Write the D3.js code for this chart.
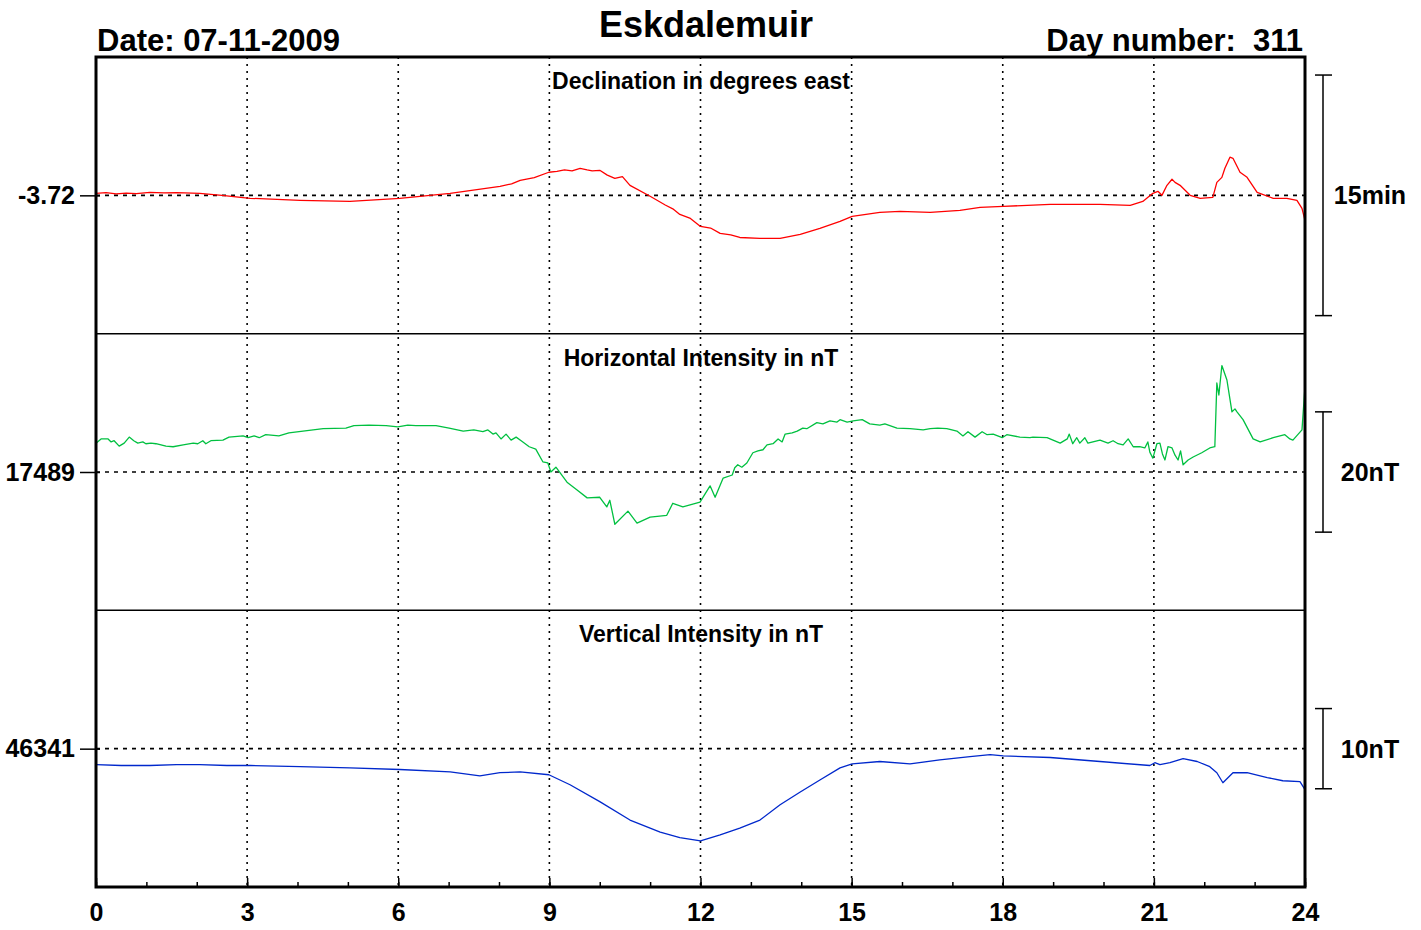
<!DOCTYPE html>
<html><head><meta charset="utf-8">
<script src="https://cdn.jsdelivr.net/npm/d3@7"></script>
<style>
html,body{margin:0;padding:0;background:#fff;}
text{font-family:"Liberation Sans",Arial,Helvetica,sans-serif;font-weight:bold;fill:#000;}
</style></head><body>
<svg id="c" width="1421" height="930"></svg>
<script>
// ---- Data ----
const title = "Eskdalemuir";
const dateLabel = "Date: 07-11-2009";
const dayLabel = "Day number:\u00a0\u00a0311";
const hourTicks = [0,3,6,9,12,15,18,21,24];
const panelTitles = ["Declination in degrees east","Horizontal Intensity in nT","Vertical Intensity in nT"];
const baseValues = [-3.72, 17489, 46341];
const baseLabels = ["-3.72","17489","46341"];
const scaleBarLabels = ["15min","20nT","10nT"];
const scaleBarSpans = [0.25, 20, 10];      // in panel units
const panelHalfRange = [0.14375, 23, 17.25]; // half of panel y-range in units

// Declination (degrees) [hour, value]
const declination = [
[0.00,-3.7179],[0.20,-3.7172],[0.40,-3.7185],[0.60,-3.7176],[0.80,-3.7182],[1.07,-3.7169],[1.35,-3.7175],[1.60,-3.7172],
[2.06,-3.7179],[2.50,-3.7200],[3.06,-3.7231],[4.05,-3.7252],
[5.04,-3.7263],[6.03,-3.7231],[7.03,-3.7179],[8.02,-3.7106],[8.25,-3.7080],[8.42,-3.7044],[8.70,-3.7015],[8.99,-3.6960],
[9.15,-3.6950],[9.30,-3.6935],[9.45,-3.6945],[9.61,-3.6919],[9.75,-3.6935],[9.85,-3.6945],[10.00,-3.6940],[10.15,-3.6990],
[10.30,-3.7023],[10.45,-3.7005],[10.60,-3.7096],
[11.00,-3.7210],[11.30,-3.7300],[11.45,-3.7340],[11.59,-3.7398],[11.80,-3.7440],[12.00,-3.7523],[12.20,-3.7540],[12.39,-3.7596],
[12.60,-3.7610],[12.78,-3.7638],
[13.18,-3.7648],[13.58,-3.7648],[13.98,-3.7606],[14.37,-3.7544],[14.77,-3.7471],[15.01,-3.7419],
[15.56,-3.7377],[15.96,-3.7367],[16.56,-3.7377],[17.15,-3.7356],[17.55,-3.7325],[18.01,-3.7315],
[18.94,-3.7294],[19.93,-3.7294],[20.53,-3.7304],[20.78,-3.7263],[20.98,-3.7179],[21.08,-3.7158],
[21.16,-3.7200],[21.26,-3.7096],[21.36,-3.7033],[21.42,-3.7065],[21.52,-3.7096],[21.72,-3.7200],
[21.92,-3.7231],[22.17,-3.7221],[22.25,-3.7065],[22.35,-3.7013],[22.41,-3.6919],[22.51,-3.6804],
[22.57,-3.6815],[22.71,-3.6960],[22.85,-3.7013],[23.05,-3.7169],[23.37,-3.7231],[23.64,-3.7231],
[23.84,-3.7252],[23.94,-3.7335],[24.00,-3.7460]
];
// Horizontal intensity (nT)
const horizontal = [
[0.00,17493.8],[0.10,17494.5],[0.24,17494.5],[0.30,17494.0],[0.36,17494.2],[0.46,17493.3],[0.56,17493.8],
[0.66,17494.8],[0.75,17494.2],[0.83,17493.8],[0.93,17494.0],[0.99,17493.7],[1.09,17493.8],[1.19,17493.7],
[1.39,17493.3],[1.53,17493.2],[1.73,17493.5],[1.93,17493.8],[2.02,17493.7],[2.12,17494.2],[2.18,17493.7],
[2.28,17494.2],[2.52,17494.3],[2.64,17494.8],[2.92,17495.0],[3.02,17494.7],[3.14,17495.0],[3.24,17494.7],
[3.37,17495.2],[3.63,17495.0],[3.83,17495.5],[4.11,17495.8],[4.51,17496.2],[4.96,17496.3],[5.12,17496.7],
[5.42,17496.8],[5.76,17496.7],[5.99,17496.5],[6.19,17496.8],[6.35,17496.7],[6.75,17496.7],[7.01,17496.3],
[7.29,17495.8],[7.50,17496.0],[7.68,17495.7],[7.78,17496.0],[7.88,17495.3],[7.94,17495.5],[8.04,17494.5],
[8.14,17495.3],[8.24,17494.3],[8.34,17494.8],[8.44,17494.2],[8.60,17493.2],[8.73,17492.8],[8.87,17490.7],
[8.97,17490.5],[9.03,17489.0],[9.13,17489.8],[9.35,17487.3],[9.55,17486.0],[9.75,17484.7],[10.00,17484.8],
[10.14,17483.2],[10.20,17484.3],[10.30,17480.3],[10.56,17482.5],[10.74,17480.5],[11.00,17481.5],
[11.33,17481.8],[11.45,17483.8],[11.65,17483.2],[11.99,17484.0],[12.19,17486.7],[12.29,17484.8],
[12.45,17488.0],[12.63,17488.5],[12.68,17489.7],[12.74,17490.2],[12.82,17489.8],[12.92,17490.5],
[13.04,17492.2],[13.14,17492.5],[13.24,17492.7],[13.32,17493.5],[13.44,17493.7],[13.54,17494.5],
[13.62,17494.0],[13.68,17495.3],[13.82,17495.5],[13.92,17495.8],[14.03,17496.3],[14.11,17496.2],
[14.31,17497.2],[14.43,17497.0],[14.57,17497.5],[14.71,17497.3],[14.77,17497.7],[14.91,17497.3],
[15.03,17497.5],[15.21,17497.7],[15.36,17497.0],[15.56,17496.8],[15.66,17497.0],[15.90,17496.3],
[16.16,17496.2],[16.42,17496.0],[16.56,17496.2],[16.71,17496.3],[16.89,17496.2],[17.09,17495.8],
[17.21,17495.0],[17.31,17495.7],[17.45,17494.8],[17.59,17495.7],[17.69,17495.2],[17.81,17495.3],
[17.99,17494.7],[18.08,17495.2],[18.34,17494.8],[18.54,17494.7],[18.60,17494.8],[18.88,17494.7],
[19.14,17493.8],[19.28,17494.5],[19.32,17495.3],[19.39,17493.7],[19.47,17494.7],[19.53,17493.8],
[19.63,17494.7],[19.69,17493.8],[19.93,17494.3],[20.09,17493.8],[20.19,17494.2],[20.29,17493.7],
[20.39,17493.5],[20.49,17494.5],[20.59,17493.2],[20.72,17493.2],[20.82,17493.0],[20.88,17494.0],
[20.92,17492.3],[20.98,17491.3],[21.06,17493.7],[21.12,17493.8],[21.17,17492.0],[21.22,17491.0],
[21.28,17493.2],[21.36,17493.0],[21.42,17491.8],[21.48,17491.0],[21.53,17492.5],[21.58,17490.2],
[21.68,17491.0],[21.78,17491.5],[21.95,17492.2],[22.11,17493.0],[22.21,17493.2],[22.25,17503.8],
[22.29,17501.8],[22.35,17506.7],[22.45,17504.3],[22.55,17499.0],[22.61,17499.5],[22.65,17499.0],
[22.77,17497.7],[22.97,17494.5],[23.11,17494.0],[23.37,17494.7],[23.60,17495.2],[23.70,17494.5],
[23.76,17494.3],[23.94,17496.0],[24.00,17503.2]
];
// Vertical intensity (nT)
const vertical = [
[0.00,46339.0],[0.50,46338.9],[1.07,46338.9],[1.60,46339.0],[2.06,46339.0],[2.60,46338.9],[3.06,46338.9],[4.05,46338.75],[5.04,46338.6],
[6.03,46338.4],[7.03,46338.1],[7.62,46337.6],[8.02,46338.0],[8.42,46338.1],[8.99,46337.75],
[9.41,46336.5],[10.00,46334.4],[10.60,46332.1],[11.20,46330.6],[11.59,46329.9],[12.00,46329.5],
[12.39,46330.25],[12.78,46331.1],[13.18,46332.1],[13.58,46334.0],[13.98,46335.6],[14.37,46337.1],
[14.77,46338.6],[15.01,46339.1],[15.56,46339.4],[16.16,46339.1],[16.75,46339.6],[17.35,46340.0],
[17.75,46340.25],[18.01,46340.1],[18.94,46339.9],[19.93,46339.4],[20.92,46338.9],[21.02,46339.25],
[21.12,46339.0],[21.32,46339.25],[21.58,46339.75],[21.86,46339.4],[22.11,46338.75],[22.25,46338.0],
[22.37,46336.75],[22.57,46338.0],[22.85,46338.0],[23.25,46337.4],[23.56,46337.0],[23.90,46336.9],
[24.00,46335.9]
];
const seriesList = [declination, horizontal, vertical];
const seriesColors = ["#ff0000", "#00c040", "#0028cc"];

(function draw() {
// ---- Layout ----
const pLeft = 96, pRight = 1305, pTop = 57, pBottom = 887;
const panelH = (pBottom - pTop) / 3;
const svg = d3.select("#c");

const x = d3.scaleLinear().domain([0, 24]).range([pLeft, pRight]);

// vertical dotted grid
svg.append("g").selectAll("line").data(hourTicks.filter(h => h > 0 && h < 24)).join("line")
  .attr("x1", d => x(d)).attr("x2", d => x(d)).attr("y1", pTop).attr("y2", pBottom)
  .attr("stroke", "#000").attr("stroke-width", 1.6).attr("stroke-dasharray", "2,5");

const line = d3.line();
seriesList.forEach((data, i) => {
  const y0 = pTop + i * panelH, y1 = y0 + panelH;
  const b = baseValues[i], hr = panelHalfRange[i];
  const y = d3.scaleLinear().domain([b - hr, b + hr]).range([y1, y0]);
  const g = svg.append("g");
  // reference dotted line
  g.append("line").attr("x1", pLeft).attr("x2", pRight).attr("y1", y(b)).attr("y2", y(b))
    .attr("stroke", "#000").attr("stroke-width", 1.6).attr("stroke-dasharray", "4,5");
  // left axis tick + label
  const ax = g.append("g").attr("transform", `translate(${pLeft},0)`)
    .call(d3.axisLeft(y).tickValues([b]).tickFormat(() => baseLabels[i]).tickSize(16).tickPadding(5));
  ax.select(".domain").remove();
  ax.selectAll("line").attr("stroke", "#000").attr("stroke-width", 1.5).attr("x2", 4).attr("x1", -16);
  ax.selectAll("text").attr("font-size", 25).attr("font-family", "Liberation Sans, Arial, sans-serif")
    .attr("font-weight", "bold").attr("fill", "#000");
  // panel title
  g.append("text").attr("x", 701).attr("y", y0 + 32).attr("text-anchor", "middle")
    .attr("font-size", 23).text(panelTitles[i]);
  // data trace
  g.append("path").datum(data)
    .attr("d", line.x(d => x(d[0])).y(d => y(d[1])))
    .attr("fill", "none").attr("stroke", seriesColors[i]).attr("stroke-width", 1.3)
    .attr("stroke-linejoin", "round");
  // scale bar
  const sb = scaleBarSpans[i] / 2;
  const sx = 1323;
  g.append("line").attr("x1", sx).attr("x2", sx).attr("y1", y(b + sb)).attr("y2", y(b - sb))
    .attr("stroke", "#000").attr("stroke-width", 1.5);
  [b + sb, b - sb].forEach(v => {
    g.append("line").attr("x1", sx - 8).attr("x2", sx + 9).attr("y1", y(v)).attr("y2", y(v))
      .attr("stroke", "#000").attr("stroke-width", 1.5);
  });
  g.append("text").attr("x", 1370).attr("y", y(b) + 9).attr("text-anchor", "middle")
    .attr("font-size", 25).text(scaleBarLabels[i]);
  // divider
  if (i > 0) {
    svg.append("line").attr("x1", pLeft).attr("x2", pRight).attr("y1", y0).attr("y2", y0)
      .attr("stroke", "#000").attr("stroke-width", 1.5);
  }
});

// bottom axis: minor and major ticks
const minor = svg.append("g").attr("transform", `translate(0,${pBottom})`)
  .call(d3.axisBottom(x).tickValues(d3.range(0, 25, 1)).tickSize(-5).tickFormat(""));
minor.select(".domain").remove();
minor.selectAll("line").attr("stroke", "#000").attr("stroke-width", 1.5);
const major = svg.append("g").attr("transform", `translate(0,${pBottom})`)
  .call(d3.axisBottom(x).tickValues(hourTicks).tickSize(-9).tickPadding(16).tickFormat(d3.format("d")));
major.select(".domain").remove();
major.selectAll("line").attr("stroke", "#000").attr("stroke-width", 1.5);
major.selectAll("text").attr("font-size", 25).attr("font-family", "Liberation Sans, Arial, sans-serif")
  .attr("font-weight", "bold").attr("fill", "#000");

// frame
svg.append("rect").attr("x", pLeft).attr("y", pTop).attr("width", pRight - pLeft).attr("height", pBottom - pTop)
  .attr("fill", "none").attr("stroke", "#000").attr("stroke-width", 3);

// header texts
svg.append("text").attr("x", 706).attr("y", 37).attr("text-anchor", "middle").attr("font-size", 36).text(title);
svg.append("text").attr("x", 97).attr("y", 51).attr("font-size", 31).text(dateLabel);
svg.append("text").attr("x", 1303).attr("y", 51).attr("text-anchor", "end").attr("font-size", 31).text(dayLabel);
})();
</script>
</body></html>
